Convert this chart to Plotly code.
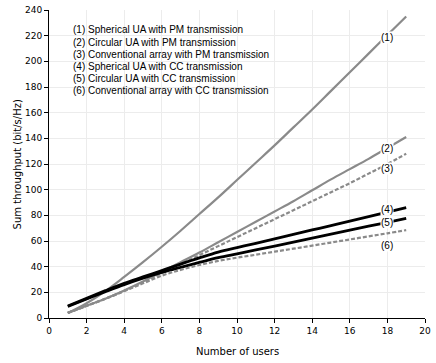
import plotly.graph_objects as go

users = list(range(1, 20))

sph_pm = [3.8, 11.5, 21, 32, 43.5, 55.5, 68, 81, 94, 107.5, 121, 134.5, 148.5, 162.5, 177, 191.5, 206, 220.5, 235]
cir_pm = [4, 9.5, 15, 21.5, 28.5, 36, 43.5, 51, 59, 67, 75, 83, 91, 99.5, 108, 116, 124, 132.5, 141]
conv_pm = [4, 9.5, 15, 21, 28, 35, 42, 49, 56, 63, 70, 77, 84, 91, 98, 105, 112.5, 120, 128]
sph_cc = [9.3, 15.3, 21.3, 27, 32, 37, 42, 46.8, 51.3, 54.8, 58.2, 61.7, 65.1, 68.6, 72, 75.5, 79, 82.5, 86]
cir_cc = [9, 14.8, 20.5, 26, 31, 35.5, 39.5, 43.3, 47, 50, 53, 56, 59.1, 62.2, 65.3, 68.4, 71.5, 74.6, 77.6]
conv_cc = [4, 9.5, 15, 21, 27, 33, 37.5, 41.3, 44.5, 47, 49.3, 51.7, 54, 56.4, 58.8, 61.2, 63.6, 66, 68.5]

legend_lines = [
    "(1) Spherical UA with PM transmission",
    "(2) Circular UA with PM transmission",
    "(3) Conventional array with PM transmission",
    "(4) Spherical UA with CC transmission",
    "(5) Circular UA with CC transmission",
    "(6) Conventional array with CC transmission",
]

curve_tags = ["(1)", "(2)", "(3)", "(4)", "(5)", "(6)"]
tag_x = [18, 18, 18, 18, 18, 18]
tag_y = [218.4, 132, 116.5, 84.6, 74.2, 56.6]

grey = "#8a8a8a"
series = [
    (sph_pm, grey, "solid", 2.2),
    (cir_pm, grey, "solid", 2.2),
    (conv_pm, grey, "dash", 2.2),
    (sph_cc, "black", "solid", 2.8),
    (cir_cc, "black", "solid", 2.8),
    (conv_cc, grey, "dash", 2.2),
]

fig = go.Figure()
for vals, col, dash, w in series:
    fig.add_trace(go.Scatter(
        x=users, y=vals, mode="lines", line_shape="spline",
        line=dict(color=col, width=w, dash="4px,2px" if dash == "dash" else "solid"),
        showlegend=False, hoverinfo="skip",
    ))

for t, xx, yy in zip(curve_tags, tag_x, tag_y):
    fig.add_annotation(x=xx, y=yy, text=t, showarrow=False,
                       bgcolor="white", borderpad=0,
                       font=dict(family="Liberation Sans, Arial", size=10, color="black"))

# legend block, one line every ~12 px
plot_h = 308.5
for i, line in enumerate(legend_lines):
    fig.add_annotation(x=0.0585, y=1 - (20 + 12.1 * i) / plot_h,
                       xref="paper", yref="paper", xanchor="left", yanchor="middle",
                       showarrow=False, text=line,
                       font=dict(family="Liberation Sans, Arial", size=10, color="black"))

title_font = dict(family="DejaVu Sans", size=10, color="black")
fig.add_annotation(x=-0.104, y=0.5, xref="paper", yref="paper", textangle=-90,
                   showarrow=False, text="Sum throughput (bit/s/Hz)", font=title_font)
fig.add_annotation(x=0.5, y=-0.11, xref="paper", yref="paper", yanchor="middle",
                   showarrow=False, text="Number of users", font=title_font)

axis_common = dict(
    showline=True, linecolor="black", linewidth=1,
    ticks="outside", ticklen=4, tickcolor="black",
    showgrid=True, gridcolor="#ececec", gridwidth=1,
    zeroline=False, mirror=False, automargin=False,
    tickfont=dict(family="DejaVu Sans", size=9, color="black"),
)

fig.update_xaxes(range=[0, 20], dtick=2, **axis_common)
fig.update_yaxes(range=[0, 240], dtick=20, **axis_common)

fig.update_layout(
    width=436, height=363,
    margin=dict(l=49, r=11, t=9.5, b=45),
    plot_bgcolor="white", paper_bgcolor="white",
)

fig.write_html("out.html", config={"displayModeBar": False},
               post_script="document.body.style.margin='0';")
